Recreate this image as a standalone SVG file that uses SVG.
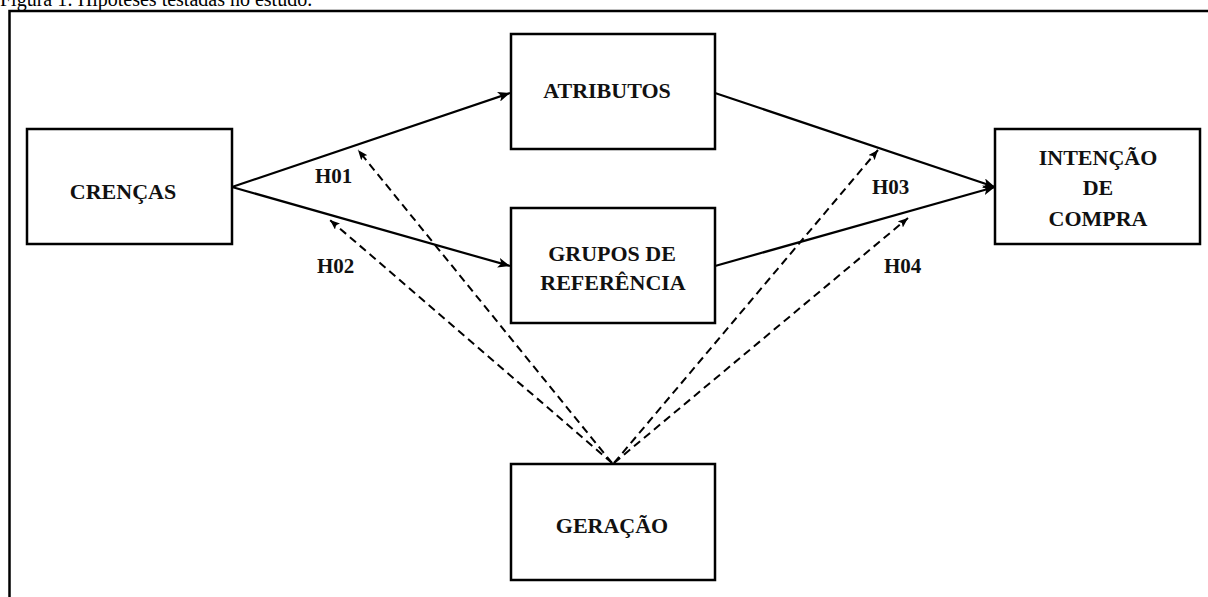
<svg xmlns="http://www.w3.org/2000/svg" width="1208" height="597" viewBox="0 0 1208 597">
<defs>
<style>
.box{fill:#fff;stroke:#000;stroke-width:2.5}
.lbl{font-family:"Liberation Serif","Times New Roman",serif;font-weight:bold;font-size:22px;fill:#111;text-anchor:middle}
.h{font-family:"Liberation Serif","Times New Roman",serif;font-weight:bold;font-size:21px;fill:#111}
.solid{stroke:#000;stroke-width:2.2;fill:none}
.dash{stroke:#000;stroke-width:2;fill:none;stroke-dasharray:8 5}
</style>
<marker id="ah" viewBox="0 0 12 10" refX="12" refY="5" markerWidth="12" markerHeight="10" markerUnits="userSpaceOnUse" orient="auto">
<path d="M0,0 L12,5 L0,10 L3,5 Z" fill="#000"/>
</marker>
<marker id="ahs" viewBox="0 0 10 8" refX="10" refY="4" markerWidth="10" markerHeight="8" markerUnits="userSpaceOnUse" orient="auto">
<path d="M0,0 L10,4 L0,8 L2,4 Z" fill="#000"/>
</marker>
</defs>
<rect width="1208" height="597" fill="#fff"/>
<text x="0" y="6" font-family="Liberation Serif,'Times New Roman',serif" font-size="20" fill="#000">Figura 1: Hipóteses testadas no estudo.</text>
<rect x="9.5" y="11" width="1220" height="600" fill="none" stroke="#000" stroke-width="2.5"/>

<g id="connectors">
<line class="solid" x1="232" y1="187" x2="510" y2="93" marker-end="url(#ah)"/>
<line class="solid" x1="232" y1="187" x2="510" y2="266" marker-end="url(#ah)"/>
<line class="solid" x1="715" y1="93" x2="995" y2="187" marker-end="url(#ah)"/>
<line class="solid" x1="715" y1="266" x2="995" y2="187" marker-end="url(#ah)"/>
<line class="dash" x1="612" y1="463" x2="358" y2="150" marker-end="url(#ahs)"/>
<line class="dash" x1="612" y1="463" x2="330" y2="220" marker-end="url(#ahs)"/>
<line class="dash" x1="614" y1="463" x2="878" y2="150" marker-end="url(#ahs)"/>
<line class="dash" x1="614" y1="463" x2="908" y2="218" marker-end="url(#ahs)"/>
</g>

<g id="crencas">
<rect class="box" x="27" y="129" width="205" height="115"/>
<text class="lbl" x="123" y="199">CRENÇAS</text>
</g>
<g id="atributos">
<rect class="box" x="511" y="34" width="204" height="115"/>
<text class="lbl" x="607" y="98">ATRIBUTOS</text>
</g>
<g id="grupos">
<rect class="box" x="511" y="208" width="204" height="115"/>
<text class="lbl" x="612" y="261">GRUPOS DE</text>
<text class="lbl" x="613" y="290">REFERÊNCIA</text>
</g>
<g id="intencao">
<rect class="box" x="995" y="129" width="205" height="115"/>
<text class="lbl" x="1098" y="165">INTENÇÃO</text>
<text class="lbl" x="1098" y="195">DE</text>
<text class="lbl" x="1098" y="226">COMPRA</text>
</g>
<g id="geracao">
<rect class="box" x="511" y="464" width="204" height="116"/>
<text class="lbl" x="612" y="533">GERAÇÃO</text>
</g>

<g id="labels">
<text class="h" x="315" y="183">H01</text>
<text class="h" x="317" y="273">H02</text>
<text class="h" x="872" y="194">H03</text>
<text class="h" x="884" y="273">H04</text>
</g>
</svg>
